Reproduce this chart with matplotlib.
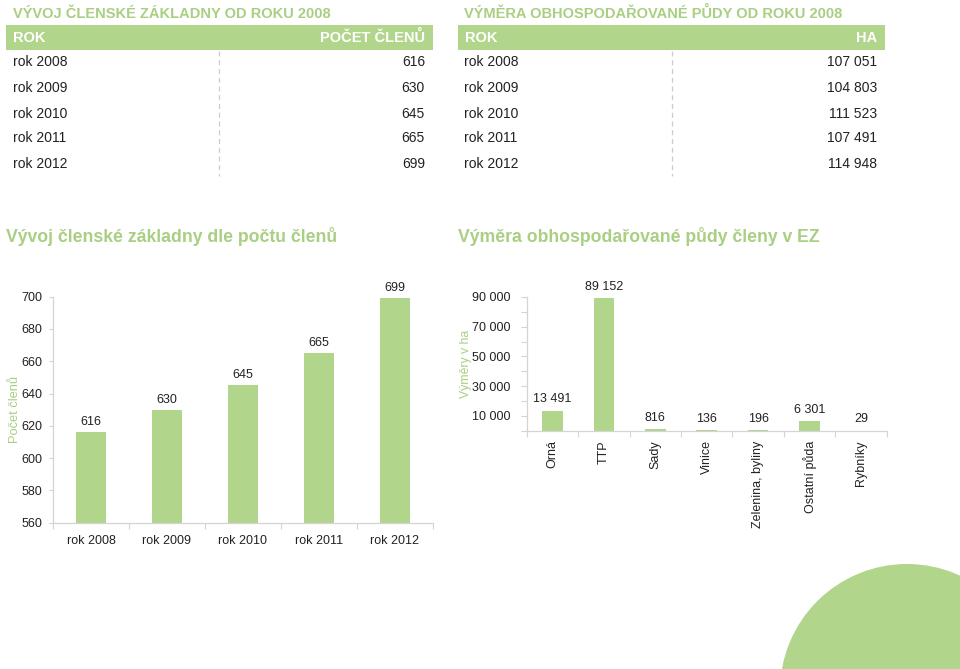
import matplotlib
matplotlib.use("Agg")
import matplotlib.pyplot as plt
from matplotlib.patches import Rectangle, Circle
import numpy as np

plt.rcParams['font.family'] = ['Liberation Sans', 'DejaVu Sans']

# ---------------- data ----------------
years = ['rok 2008', 'rok 2009', 'rok 2010', 'rok 2011', 'rok 2012']
members = [616, 630, 645, 665, 699]
hectares = [107051, 104803, 111523, 107491, 114948]

land_types = ['Orná', 'TTP', 'Sady', 'Vinice', 'Zelenina, byliny', 'Ostatní půda', 'Rybníky']
land_areas = [13491, 89152, 816, 136, 196, 6301, 29]

members_ticks = [560, 580, 600, 620, 640, 660, 680, 700]
area_ticks = [10000, 30000, 50000, 70000, 90000]

GREEN = '#b2d58c'
TITLE_GREEN = '#a8cf82'
TXT = '#222222'
AXC = '#d4d4d4'

W, H = 960, 669


def fmt(v):
    return f"{v:,}".replace(',', ' ')


fig = plt.figure(figsize=(9.6, 6.69), dpi=100)

# background overlay in pixel coords
bg = fig.add_axes([0, 0, 1, 1], zorder=0)
bg.set_xlim(0, W)
bg.set_ylim(H, 0)
bg.axis('off')

# decorative circle bottom right
bg.add_patch(Circle((907, 691), 127, color=GREEN, lw=0))


def table(x0, x1, xtext, xval, xdash, title, header_right, values):
    bg.text(xtext, 13.5, title, color=TITLE_GREEN, fontsize=10.5, fontweight='bold',
            va='center', ha='left')
    bg.add_patch(Rectangle((x0, 25), x1 - x0, 25, color=GREEN, lw=0))
    bg.text(xtext, 37.5, 'ROK', color='white', fontsize=10.5, fontweight='bold',
            va='center', ha='left')
    bg.text(xval, 37.5, header_right, color='white', fontsize=10.5, fontweight='bold',
            va='center', ha='right')
    rows_y = [62.5, 87.5, 113.5, 138.5, 163.5]
    for yy, lab, v in zip(rows_y, years, values):
        bg.text(xtext, yy, lab, color=TXT, fontsize=10, va='center', ha='left')
        bg.text(xval, yy, fmt(v), color=TXT, fontsize=10, va='center', ha='right')
    bg.plot([xdash, xdash], [51, 176], color='#cccccc', lw=0.9,
            linestyle=(0, (4, 3)))


table(5.5, 432.7, 13, 425, 219, 'VÝVOJ ČLENSKÉ ZÁKLADNY OD ROKU 2008', 'POČET ČLENŮ', members)
table(457.5, 885, 464.5, 877, 671.5, 'VÝMĚRA OBHOSPODAŘOVANÉ PŮDY OD ROKU 2008', 'HA', hectares)

# chart titles
bg.text(6, 236.5, 'Vývoj členské základny dle počtu členů', color=TITLE_GREEN,
        fontsize=12.7, fontweight='bold', va='center', ha='left')
bg.text(458, 236.5, 'Výměra obhospodařované půdy členy v EZ', color=TITLE_GREEN,
        fontsize=12.7, fontweight='bold', va='center', ha='left')


def px_axes(l, r, t, b):
    return fig.add_axes([l / W, 1 - b / H, (r - l) / W, (b - t) / H], zorder=2)


def style(ax):
    ax.patch.set_alpha(0)
    for s in ['top', 'right']:
        ax.spines[s].set_visible(False)
    for s in ['left', 'bottom']:
        ax.spines[s].set_color(AXC)
        ax.spines[s].set_linewidth(0.9)


# ---------------- left chart ----------------
ax1 = px_axes(53, 433, 296.7, 522.7)
style(ax1)
x1 = np.arange(len(years))
ax1.bar(x1, members, width=0.39, color=GREEN, bottom=0)
ax1.set_ylim(560, 700)
ax1.set_xlim(-0.5, len(years) - 0.5)
ax1.set_yticks(members_ticks)
ax1.set_yticklabels([str(t) for t in members_ticks])
ax1.tick_params(axis='y', length=3, width=0.8, color=AXC, pad=4.5,
                labelsize=9, labelcolor=TXT)
ax1.set_xticks(np.arange(-0.5, len(years), 1.0))
ax1.set_xticklabels([])
ax1.tick_params(axis='x', which='major', length=4, width=0.8, color=AXC, direction='out')
ax1.set_xticks(x1, minor=True)
ax1.set_xticklabels(years, minor=True)
ax1.tick_params(axis='x', which='minor', length=0, pad=9, labelsize=9, labelcolor=TXT)
for xi, v in zip(x1, members):
    ax1.annotate(str(v), (xi, v), xytext=(0, 3), textcoords='offset points',
                 ha='center', va='bottom', fontsize=9, color=TXT, annotation_clip=False)
ax1.set_ylabel('Počet členů', color=TITLE_GREEN, fontsize=9.3)
ax1.yaxis.set_label_coords((21 - 53) / 380, 0.5)

# ---------------- right chart ----------------
ax2 = px_axes(526.7, 886.7, 297, 430.7)
style(ax2)
x2 = np.arange(len(land_types))
ax2.bar(x2, land_areas, width=0.4, color=GREEN)
ax2.set_ylim(0, 90000)
ax2.set_xlim(-0.5, len(land_types) - 0.5)
ax2.set_yticks(area_ticks)
ax2.set_yticklabels([fmt(t) for t in area_ticks])
ax2.set_yticks(np.arange(0, 90001, 10000), minor=True)
ax2.tick_params(axis='y', which='both', length=4, width=0.8, color=AXC, pad=8,
                labelsize=9, labelcolor=TXT)
ax2.set_xticks(np.arange(-0.5, len(land_types), 1.0))
ax2.set_xticklabels([])
ax2.tick_params(axis='x', which='major', length=4, width=0.8, color=AXC, direction='out')
ax2.set_xticks(x2, minor=True)
ax2.set_xticklabels(land_types, minor=True, rotation=90, va='top')
ax2.tick_params(axis='x', which='minor', length=0, pad=7, labelsize=9, labelcolor=TXT)
for xi, v in zip(x2, land_areas):
    ax2.annotate(fmt(v), (xi, v), xytext=(0, 4), textcoords='offset points',
                 ha='center', va='bottom', fontsize=9, color=TXT, annotation_clip=False)
ax2.set_ylabel('Výměry v ha', color=TITLE_GREEN, fontsize=8.8)
ax2.yaxis.set_label_coords((472 - 526.7) / 360, 0.5)

fig.savefig('out.png', dpi=100)
